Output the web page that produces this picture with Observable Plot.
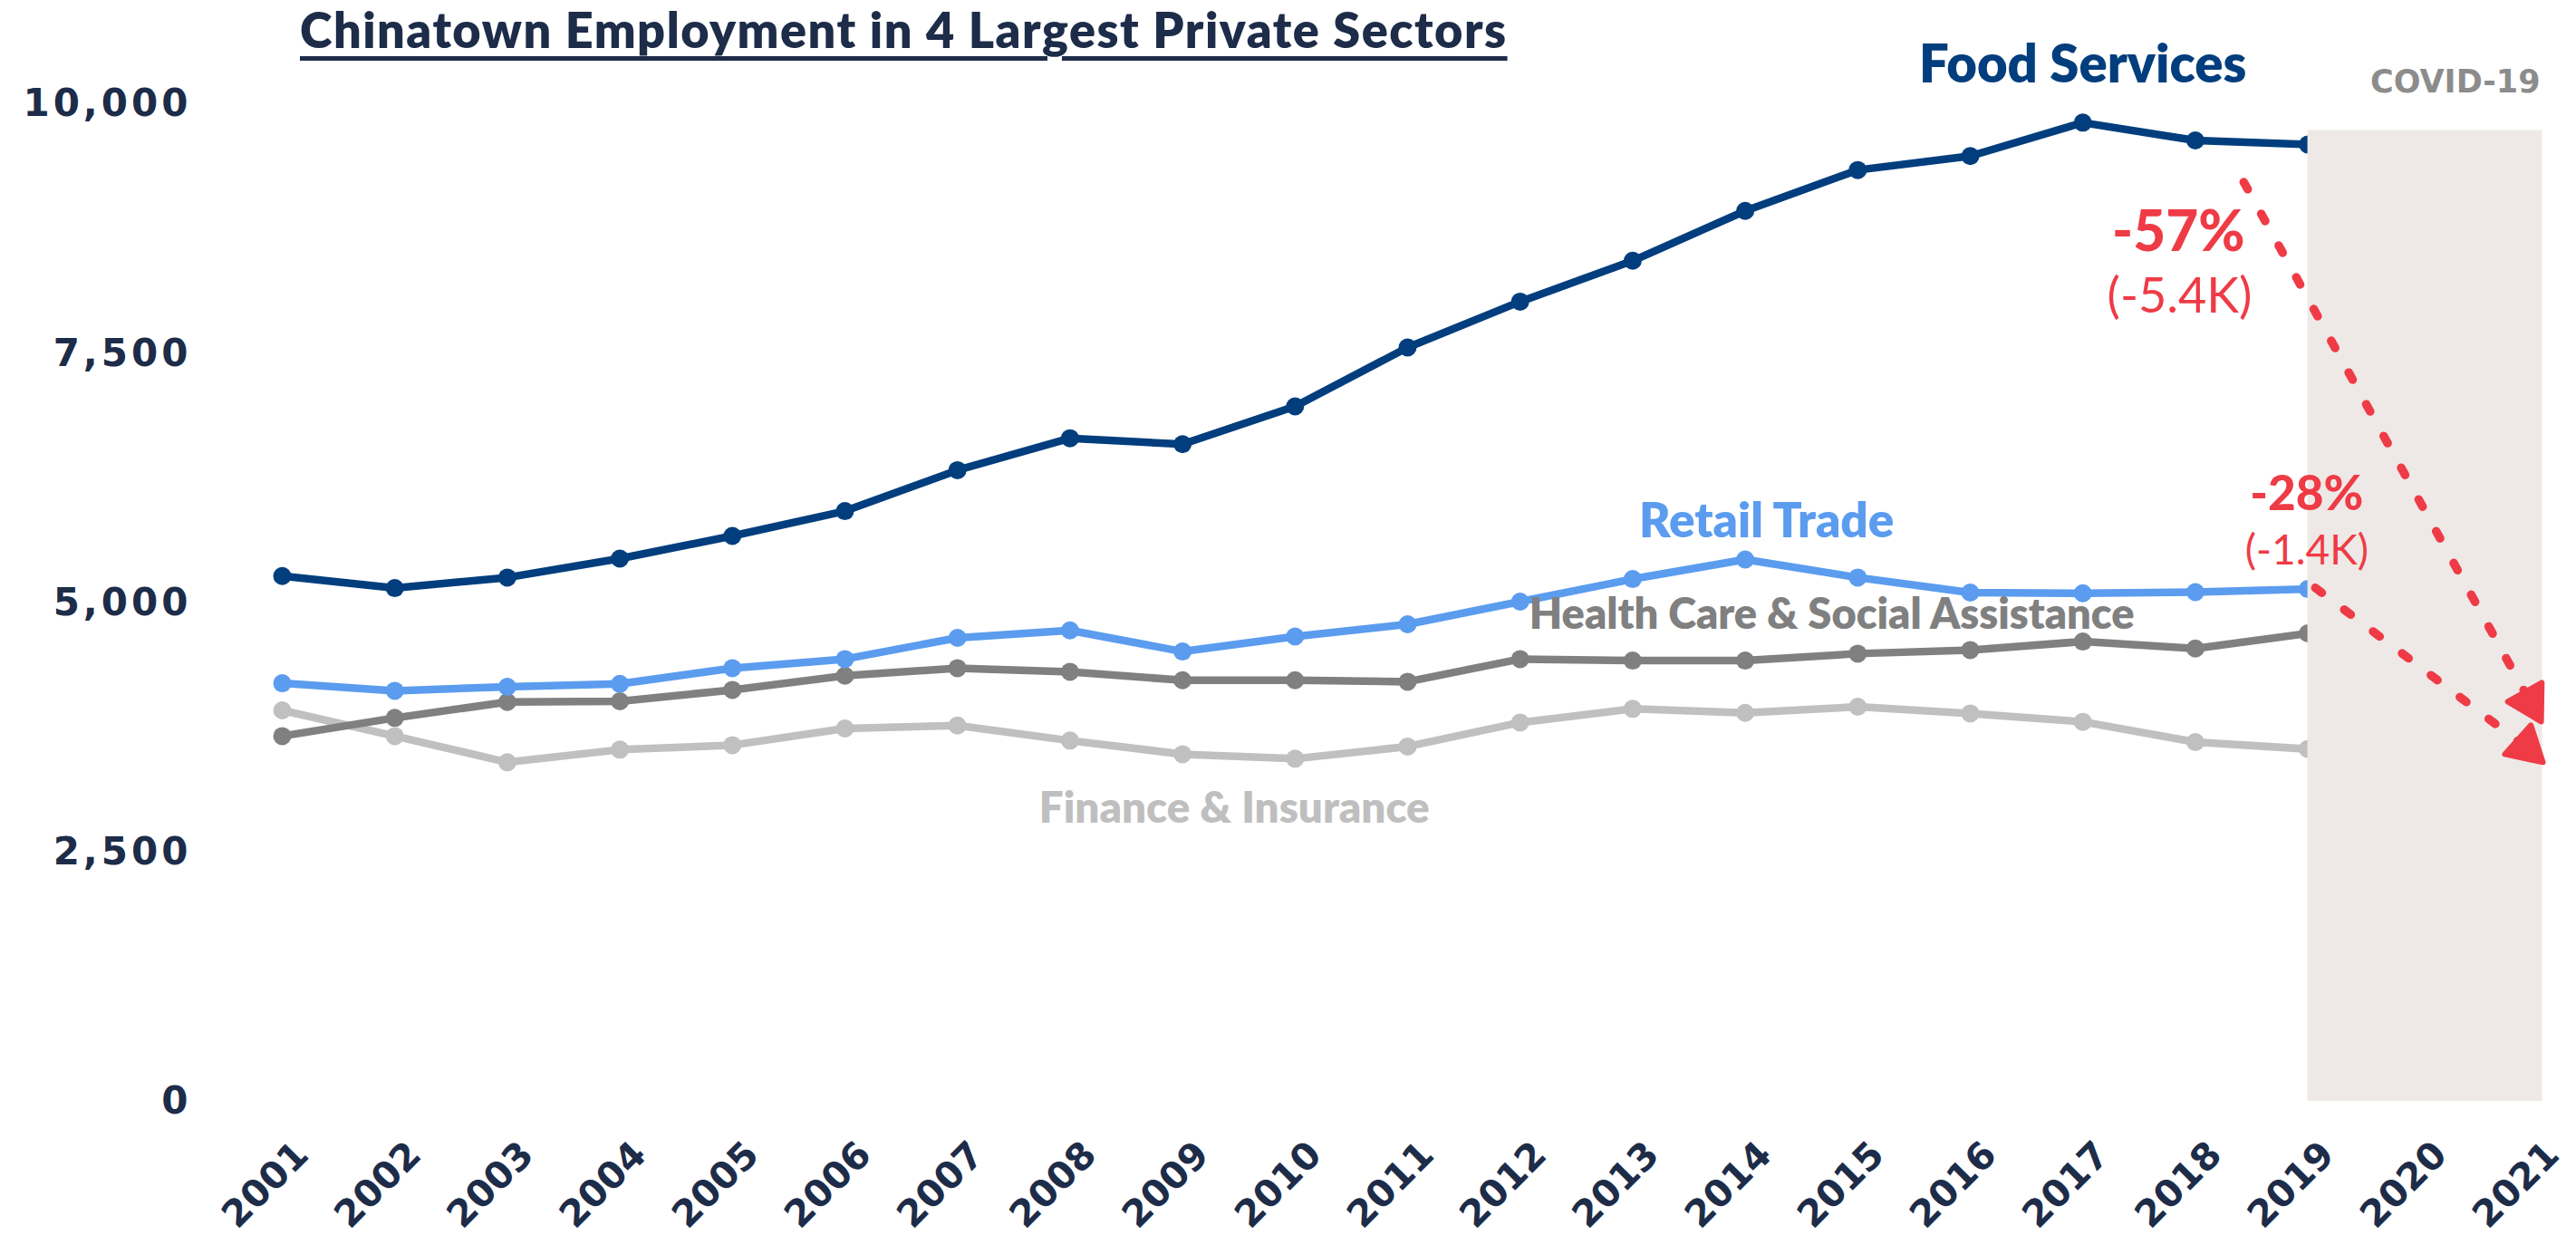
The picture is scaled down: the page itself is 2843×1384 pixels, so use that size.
<!DOCTYPE html>
<html>
<head>
<meta charset="utf-8">
<script src="https://cdn.jsdelivr.net/npm/d3@7"></script>
<script src="https://cdn.jsdelivr.net/npm/@observablehq/plot@0.6"></script>
<style>
  body { margin: 0; background: #fff; }
  #wrap { position: relative; width: 2843px; height: 1384px; overflow: hidden; }
  #title {
    position: absolute; left: 331px; top: 0px; z-index: 2;
    font-family: Lato, sans-serif; font-weight: 800; font-size: 54px; letter-spacing: 1.5px; color: #1d2c48;
    text-decoration: underline; text-decoration-thickness: 5px; text-underline-offset: 9px;
    white-space: nowrap;
  }
  #chart { position: absolute; left: 0; top: 0; }
  g[aria-label="y-axis tick label"] text { letter-spacing: 4px; }
</style>
</head>
<body>
<div id="wrap">
  <div id="chart"></div>
  <div id="title">Chinatown Employment in 4 Largest Private Sectors</div>
</div>
<script>
// ---- data ----
const years = [2001, 2002, 2003, 2004, 2005, 2006, 2007, 2008, 2009, 2010, 2011, 2012, 2013, 2014, 2015, 2016, 2017, 2018, 2019];
const foodServices     = [5268, 5147, 5253, 5443, 5670, 5919, 6330, 6650, 6590, 6970, 7560, 8020, 8430, 8930, 9340, 9480, 9815, 9637, 9596];
const retailTrade      = [4193, 4117, 4157, 4187, 4344, 4435, 4648, 4723, 4511, 4662, 4784, 5011, 5238, 5434, 5253, 5102, 5095, 5107, 5138];
const healthCare       = [3663, 3845, 4005, 4012, 4126, 4269, 4344, 4308, 4223, 4223, 4208, 4435, 4420, 4420, 4490, 4526, 4611, 4541, 4693];
const financeInsurance = [3921, 3663, 3400, 3527, 3572, 3739, 3769, 3618, 3481, 3436, 3558, 3799, 3936, 3896, 3957, 3890, 3806, 3603, 3533];
const sectors = ["Finance & Insurance", "Health Care & Social Assistance", "Retail Trade", "Food Services"];
const xTicks = [2001, 2002, 2003, 2004, 2005, 2006, 2007, 2008, 2009, 2010, 2011, 2012, 2013, 2014, 2015, 2016, 2017, 2018, 2019, 2020, 2021];
const yTicks = [0, 2500, 5000, 7500, 10000];

// annotations (data coordinates)
const covidPeriod = [{x1: 2019, x2: 2021.085, y1: 0, y2: 9737}];
const seriesLabels = [
  {text: "Food Services", x: 2017.0, y: 10391},
  {text: "Retail Trade", x: 2014.19, y: 5813},
  {text: "Health Care & Social Assistance", x: 2014.77, y: 4877},
  {text: "Finance & Insurance", x: 2009.46, y: 2934}
];
const covidLabel = [{text: "COVID-19", x: 2020.31, y: 10218}];
const pctLabels = [{text: "-57%", x: 2017.85, y: 8710}, {text: "-28%", x: 2018.99, y: 6085}];
const absLabels = [{text: "(-5.4K)", x: 2017.86, y: 8065}, {text: "(-1.4K)", x: 2018.99, y: 5522}];
const dropArrows = [
  {x1: 2018.43, y1: 9219, x2: 2020.976, y2: 4005, angle: 151},
  {x1: 2019.066, y1: 5150, x2: 2020.94, y2: 3551, angle: 132}
];

// ---- build table ----
const seriesValues = {
  "Finance & Insurance": financeInsurance,
  "Health Care & Social Assistance": healthCare,
  "Retail Trade": retailTrade,
  "Food Services": foodServices
};
const rows = sectors.flatMap(s => years.map((yr, i) => ({sector: s, year: yr, value: seriesValues[s][i]})));

const colors = ["#c0c0c0", "#808080", "#5b9cef", "#023e7d"];
const labelColor = {"Food Services": "#023e7d", "Retail Trade": "#5b9cef", "Health Care & Social Assistance": "#808080", "Finance & Insurance": "#bfbfbf"};
const red = "#ef3b46";
const navy = "#1d2c48";

const chart = Plot.plot({
  width: 2843,
  height: 1384,
  marginLeft: 311,
  marginRight: 48,
  marginTop: 114.5,
  marginBottom: 169,
  style: {fontFamily: "Lato, sans-serif", background: "transparent", overflow: "visible"},
  x: {type: "linear", domain: [2001, 2021]},
  y: {domain: [0, 10000]},
  color: {domain: sectors, range: colors},
  marks: [
    Plot.axisY({ticks: yTicks, tickFormat: d3.format(","), tickSize: 0, tickPadding: 100, fontSize: 42, fontWeight: "bold", fontFamily: "DejaVu Sans", color: navy, label: null}),
    Plot.axisX({ticks: xTicks, tickFormat: "d", tickRotate: -45, tickSize: 0, tickPadding: 52, fontSize: 41, fontWeight: "bold", fontFamily: "DejaVu Sans", color: navy, label: null, dx: 22}),
    Plot.line(rows, {x: "year", y: "value", z: "sector", stroke: "sector", strokeWidth: 8.5, strokeLinejoin: "round"}),
    Plot.dot(rows, {x: "year", y: "value", fill: "sector", r: 10}),
    Plot.rect(covidPeriod, {x1: "x1", x2: "x2", y1: "y1", y2: "y2", fill: "#eee9e6"}),
    Plot.link(dropArrows, {x1: "x1", y1: "y1", x2: "x2", y2: "y2", stroke: red, strokeWidth: 9.5, strokeDasharray: "9,31", strokeLinecap: "round"}),
    Plot.dot(dropArrows, {x: "x2", y: "y2", symbol: "triangle", r: 16, rotate: "angle", fill: red, stroke: red, strokeWidth: 6, strokeLinejoin: "round"}),
    Plot.text(seriesLabels.slice(0, 1), {x: "x", y: "y", text: "text", fill: labelColor["Food Services"], fontSize: 58, fontWeight: 800}),
    Plot.text(seriesLabels.slice(1, 2), {x: "x", y: "y", text: "text", fill: labelColor["Retail Trade"], fontSize: 53, fontWeight: 800}),
    Plot.text(seriesLabels.slice(2, 3), {x: "x", y: "y", text: "text", fill: labelColor["Health Care & Social Assistance"], fontSize: 47, fontWeight: 800}),
    Plot.text(seriesLabels.slice(3, 4), {x: "x", y: "y", text: "text", fill: labelColor["Finance & Insurance"], fontSize: 47.5, fontWeight: 800}),
    Plot.text(covidLabel, {x: "x", y: "y", text: "text", fill: "#8c8c8c", fontSize: 35, fontWeight: "bold", fontFamily: "DejaVu Sans"}),
    Plot.text(pctLabels.slice(0, 1), {x: "x", y: "y", text: "text", fill: red, fontSize: 62, fontWeight: 900}),
    Plot.text(pctLabels.slice(1, 2), {x: "x", y: "y", text: "text", fill: red, fontSize: 53, fontWeight: 900}),
    Plot.text(absLabels.slice(0, 1), {x: "x", y: "y", text: "text", fill: red, fontSize: 54, fontWeight: 400}),
    Plot.text(absLabels.slice(1, 2), {x: "x", y: "y", text: "text", fill: red, fontSize: 46, fontWeight: 400})
  ]
});
document.getElementById("chart").appendChild(chart);
</script>
</body>
</html>
